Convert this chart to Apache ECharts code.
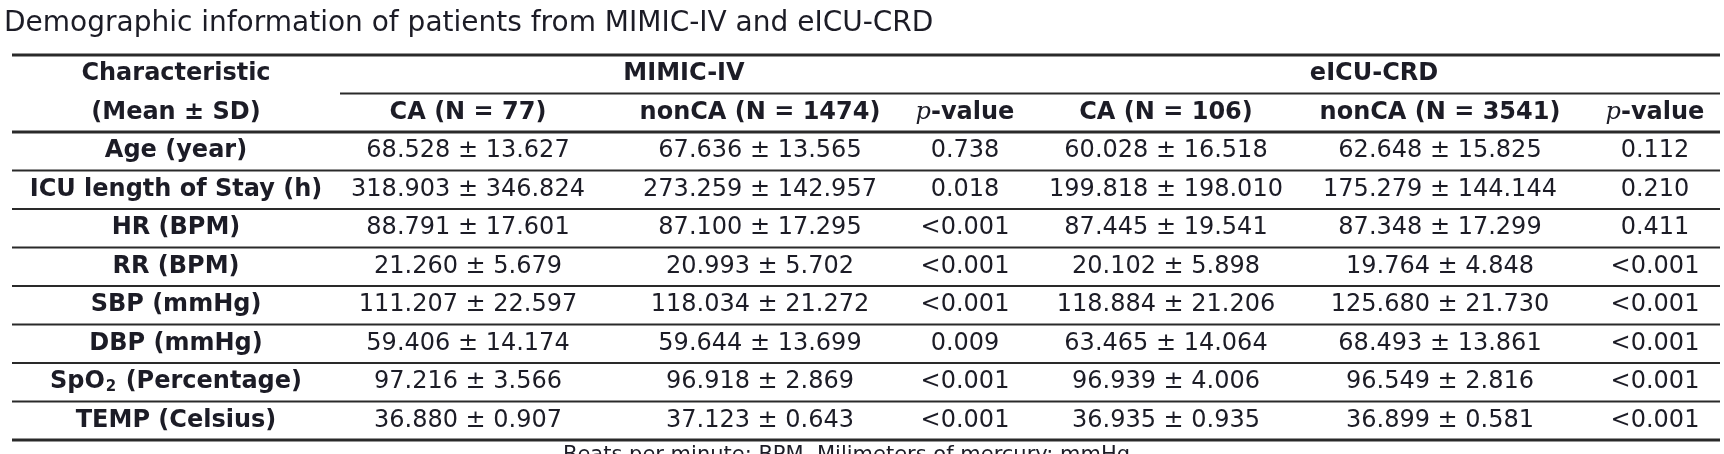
<!DOCTYPE html>
<html>
<head>
    <meta charset="utf-8"/>
    <title>Demographic information of patients from MIMIC-IV and eICU-CRD</title>
    <style>
        html, body { margin: 0; padding: 0; background: #fff; }
        #myChart { width: 1724px; height: 454px; }
    </style>
</head>
<body>
<div id="myChart"></div>

<script type="text/javascript" src="https://cdn.jsdelivr.net/npm/echarts@6.0.0/dist/echarts.min.js"></script>
<script>
    // 表格数据
    var titleText = 'Demographic information of patients from MIMIC-IV and eICU-CRD';
    var noteText = 'Beats per minute: BPM, Milimeters of mercury: mmHg';
    var groupNames = ['MIMIC-IV', 'eICU-CRD'];
    var headNames = ['Characteristic', '(Mean ± SD)'];
    var columnNames = ['CA (N = 77)', 'nonCA (N = 1474)', 'p-value', 'CA (N = 106)', 'nonCA (N = 3541)', 'p-value'];
    var characteristics = ['Age (year)', 'ICU length of Stay (h)', 'HR (BPM)', 'RR (BPM)',
        'SBP (mmHg)', 'DBP (mmHg)', 'SpO2 (Percentage)', 'TEMP (Celsius)'];

    var mimicCAMean = [68.528, 318.903, 88.791, 21.260, 111.207, 59.406, 97.216, 36.880];
    var mimicCASd = [13.627, 346.824, 17.601, 5.679, 22.597, 14.174, 3.566, 0.907];
    var mimicNonCAMean = [67.636, 273.259, 87.100, 20.993, 118.034, 59.644, 96.918, 37.123];
    var mimicNonCASd = [13.565, 142.957, 17.295, 5.702, 21.272, 13.699, 2.869, 0.643];
    var mimicP = ['0.738', '0.018', '<0.001', '<0.001', '<0.001', '0.009', '<0.001', '<0.001'];

    var eicuCAMean = [60.028, 199.818, 87.445, 20.102, 118.884, 63.465, 96.939, 36.935];
    var eicuCASd = [16.518, 198.010, 19.541, 5.898, 21.206, 14.064, 4.006, 0.935];
    var eicuNonCAMean = [62.648, 175.279, 87.348, 19.764, 125.680, 68.493, 96.549, 36.899];
    var eicuNonCASd = [15.825, 144.144, 17.299, 4.848, 21.730, 13.861, 2.816, 0.581];
    var eicuP = ['0.112', '0.210', '0.411', '<0.001', '<0.001', '<0.001', '<0.001', '<0.001'];

    // 版式 (列中心, 规则线范围)
    var colCenters = [176, 468, 760, 965, 1166, 1440, 1655];
    var groupEdges = [340, 1028, 1720];
    var tableLeft = 12, tableRight = 1720;
    var textColor = '#1c1c26';
    var font = 'DejaVu Sans';

    var rich = {
        b: {fontFamily: font, fontWeight: 'bold', fontSize: 24, color: textColor},
        it: {fontFamily: 'DejaVu Serif', fontStyle: 'italic', fontSize: 24, color: textColor},
        sub: {fontFamily: font, fontWeight: 'bold', fontSize: 15, color: textColor, verticalAlign: 'bottom', padding: [0, 1, 0, 1]}
    };

    // 标题文字转成 rich 文本
    var boldText = function (s) {
        if (s === 'p-value') return '{it|p}{b|-value}';
        if (s.indexOf('SpO2') === 0) return '{b|SpO}{sub|2}{b|' + s.slice(4) + '}';
        return '{b|' + s + '}';
    };
    var pm = function (m, sd) {
        return m.toFixed(3) + ' ± ' + sd.toFixed(3);
    };

    // 单元格
    var cells = [];
    var addCell = function (x, row, text, bold) {
        cells.push({value: [x, row + 0.5], text: text, bold: bold});
    };
    addCell(colCenters[0], 0, boldText(headNames[0]), true);
    addCell(colCenters[0], 1, boldText(headNames[1]), true);
    for (var g = 0; g < groupNames.length; g++) {
        addCell((groupEdges[g] + groupEdges[g + 1]) / 2, 0, boldText(groupNames[g]), true);
    }
    for (var c = 0; c < columnNames.length; c++) {
        addCell(colCenters[c + 1], 1, boldText(columnNames[c]), true);
    }
    for (var i = 0; i < characteristics.length; i++) {
        var r = i + 2;
        addCell(colCenters[0], r, boldText(characteristics[i]), true);
        addCell(colCenters[1], r, pm(mimicCAMean[i], mimicCASd[i]), false);
        addCell(colCenters[2], r, pm(mimicNonCAMean[i], mimicNonCASd[i]), false);
        addCell(colCenters[3], r, mimicP[i], false);
        addCell(colCenters[4], r, pm(eicuCAMean[i], eicuCASd[i]), false);
        addCell(colCenters[5], r, pm(eicuNonCAMean[i], eicuNonCASd[i]), false);
        addCell(colCenters[6], r, eicuP[i], false);
    }

    // 规则线 [x0, x1, y, 粗细]
    var rules = [[tableLeft, tableRight, 0, 2.8], [groupEdges[0], groupEdges[2], 1, 2.2]];
    for (var k = 2; k <= characteristics.length + 2; k++) {
        var w = (k === 2 || k === characteristics.length + 2) ? 2.8 : 2.2;
        rules.push([tableLeft, tableRight, k, w]);
    }

    var myChart = echarts.init(document.getElementById('myChart'));
    var option = {
        backgroundColor: '#fff',
        animation: false,
        title: [{
            text: titleText,
            left: 4,
            top: 10,
            padding: 0,
            textStyle: {fontFamily: font, fontWeight: 'normal', fontSize: 28, color: textColor}
        }, {
            text: noteText,
            left: 563,
            top: 445,
            padding: 0,
            textStyle: {fontFamily: font, fontWeight: 'normal', fontSize: 21, color: textColor}
        }],
        grid: {left: 0, right: 0, top: 55, height: 385},
        xAxis: {type: 'value', min: 0, max: 1724, show: false},
        yAxis: {type: 'value', min: 0, max: characteristics.length + 2, inverse: true, show: false},
        series: [{
            type: 'custom',
            silent: true,
            clip: false,
            data: rules,
            renderItem: function (params, api) {
                var p0 = api.coord([api.value(0), api.value(2)]);
                var p1 = api.coord([api.value(1), api.value(2)]);
                return {
                    type: 'line',
                    shape: {x1: p0[0], y1: p0[1], x2: p1[0], y2: p1[1]},
                    style: {stroke: '#2a2a2a', lineWidth: api.value(3)}
                };
            }
        }, {
            type: 'custom',
            silent: true,
            clip: false,
            data: cells.map(function (d) { return d.value; }),
            renderItem: function (params, api) {
                var cell = cells[params.dataIndex];
                var p = api.coord([api.value(0), api.value(1)]);
                return {
                    type: 'text',
                    x: p[0],
                    y: p[1],
                    style: {
                        text: cell.text,
                        rich: rich,
                        fontFamily: font,
                        fontSize: 24,
                        fontWeight: cell.bold ? 'bold' : 'normal',
                        fill: textColor,
                        align: 'center',
                        verticalAlign: 'middle'
                    }
                };
            }
        }]
    };
    myChart.setOption(option);
</script>
</body>
</html>
